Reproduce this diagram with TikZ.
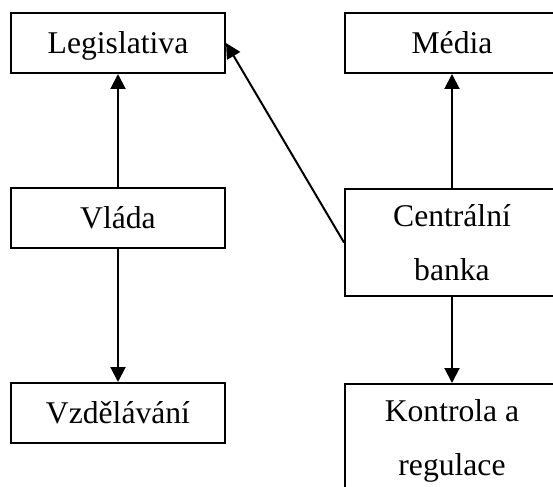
\documentclass[tikz,border=0pt]{standalone}
\usepackage{fontspec}
\setmainfont{Liberation Serif}
\usetikzlibrary{arrows.meta,positioning}
\tikzset{
  unit/.style={
    rectangle, draw=black, line width=0.04cm, fill=white,
    minimum width=4.28cm, minimum height=1.2cm, inner sep=0pt,
    font=\fontsize{18}{30.7}\selectfont, align=center,
    text height=11.4pt, text depth=0pt
  },
  unitT/.style={
    unit, minimum height=2.14cm, text height=, text depth=
  },
  arr/.style={-{Triangle[length=0.3cm, width=0.3cm]}, line width=0.04cm}
}
\begin{document}
\begin{tikzpicture}
  \useasboundingbox (0,0) rectangle (11.06,9.72);

  %% ---- left column ----
  \node[unit] at (2.36,8.86) (leg) {Legislativa};
  \node[unit, below=2.26cm of leg] (vlada) {Vláda};
  \node[unit, below=2.66cm of vlada] (vzdel) {Vzdělávání};

  %% ---- right column ----
  \node[unit, right=2.36cm of leg] (media) {Média};
  \node[unitT, below=2.28cm of media] (cb) {Centrální\\banka};
  \node[unitT, below=1.72cm of cb] (kontr) {Kontrola a\\\raisebox{0pt}[\height][0pt]{regulace}};

  \draw[arr] (vlada) -- (leg);
  \draw[arr] (vlada) -- (vzdel);
  \draw[arr] (cb) -- (media);
  \draw[arr] (cb) -- (kontr);
  \draw[arr] (cb.west) -- (leg.east);
\end{tikzpicture}
\end{document}
